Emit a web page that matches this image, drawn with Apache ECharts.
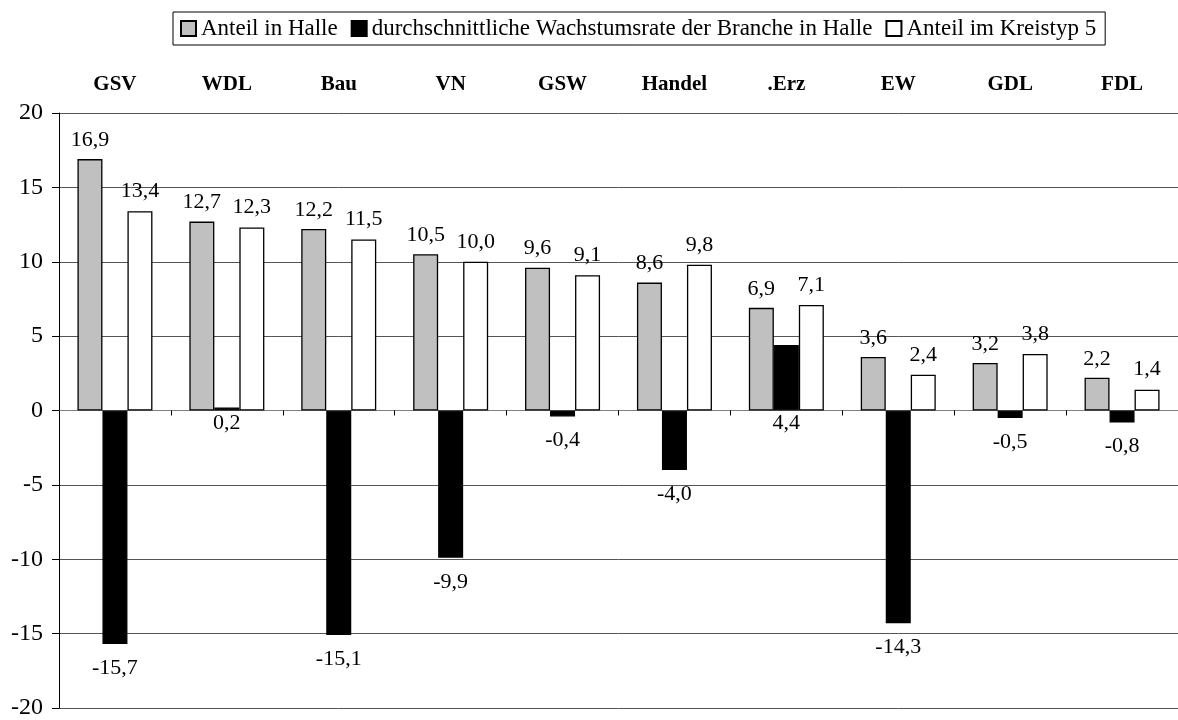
<!DOCTYPE html>
<html>
<head>
<meta charset="utf-8">
<script src="https://cdn.jsdelivr.net/npm/echarts@6/dist/echarts.min.js"></script>
<style>html,body{margin:0;padding:0;background:#fff;}#c{width:1178px;height:720px;}</style>
</head>
<body>
<div id="c"></div>
<script>
const categories = ['GSV', 'WDL', 'Bau', 'VN', 'GSW', 'Handel', '.Erz', 'EW', 'GDL', 'FDL'];
const anteilHalle = [16.9, 12.7, 12.2, 10.5, 9.6, 8.6, 6.9, 3.6, 3.2, 2.2];
const wachstumsrate = [-15.7, 0.2, -15.1, -9.9, -0.4, -4.0, 4.4, -14.3, -0.5, -0.8];
const anteilKreistyp = [13.4, 12.3, 11.5, 10.0, 9.1, 9.8, 7.1, 2.4, 3.8, 1.4];
const seriesNames = ['Anteil in Halle', 'durchschnittliche Wachstumsrate der Branche in Halle', 'Anteil im Kreistyp 5'];

const FONT = '"Liberation Serif", "Times New Roman", serif';
const fmt = p => p.value.toFixed(1).replace('.', ',');

const chart = echarts.init(document.getElementById('c'), null, {renderer: 'canvas'});
chart.setOption({
  animation: false,
  backgroundColor: '#fff',
  textStyle: {fontFamily: FONT},
  legend: {
    top: 12,
    left: 173,
    itemWidth: 15,
    itemHeight: 15,
    itemGap: 13,
    padding: [5, 9, 5, 7],
    borderColor: '#000',
    borderWidth: 1,
    icon: 'rect',
    textStyle: {fontFamily: FONT, fontSize: 23, color: '#000', padding: [0, 0, 0, 0]},
    data: seriesNames
  },
  grid: {left: 59, top: 113, width: 1132, height: 599, containLabel: false},
  xAxis: [
    {
      type: 'category',
      data: categories,
      axisLine: {onZero: true, lineStyle: {color: '#808080', width: 1}},
      axisTick: {show: true, length: 5, lineStyle: {color: '#000'}},
      axisLabel: {show: false},
      splitLine: {show: false}
    },
    {
      type: 'category',
      position: 'top',
      data: categories,
      axisLine: {show: false},
      axisTick: {show: false},
      axisLabel: {show: true, margin: 18, fontFamily: FONT, fontSize: 21, fontWeight: 'bold', color: '#000'},
      splitLine: {show: false}
    }
  ],
  yAxis: {
    type: 'value',
    min: -20,
    max: 20,
    interval: 5,
    axisLine: {show: true, lineStyle: {color: '#000', width: 1}},
    axisTick: {show: true, length: 7, lineStyle: {color: '#000'}},
    axisLabel: {fontFamily: FONT, fontSize: 24, color: '#000', margin: 16},
    splitLine: {show: true, lineStyle: {color: '#555', width: 1}}
  },
  series: [
    {
      name: seriesNames[0],
      type: 'bar',
      data: anteilHalle,
      barWidth: 25,
      barGap: '0%',
      itemStyle: {color: '#c0c0c0', borderColor: '#000', borderWidth: 1.3},
      label: {show: true, position: 'top', distance: 8, formatter: fmt, fontFamily: FONT, fontSize: 22, color: '#000'}
    },
    {
      name: seriesNames[1],
      type: 'bar',
      data: wachstumsrate.map(v => ({value: v, label: {distance: v < 0 ? 13 : 2}})),
      barWidth: 25,
      barGap: '0%',
      itemStyle: {color: '#000', borderColor: '#000', borderWidth: 1.3},
      label: {show: true, position: 'bottom', formatter: fmt, fontFamily: FONT, fontSize: 22, color: '#000'}
    },
    {
      name: seriesNames[2],
      type: 'bar',
      data: anteilKreistyp,
      barWidth: 25,
      barGap: '0%',
      itemStyle: {color: '#fff', borderColor: '#000', borderWidth: 1.3},
      label: {show: true, position: 'top', distance: 9, formatter: fmt, fontFamily: FONT, fontSize: 22, color: '#000'}
    }
  ]
});
</script>
</body>
</html>
